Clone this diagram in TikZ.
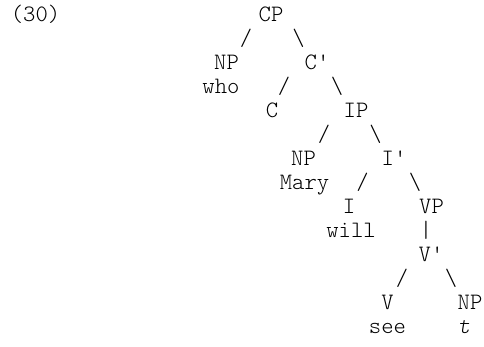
\documentclass[tikz,border=0pt]{standalone}
\usepackage{fontspec}
\setmonofont{Latin Modern Mono Light}
\begin{document}
\begin{tikzpicture}[x=1pt,y=-1pt,
  tx/.style={anchor=base,inner sep=0pt,font=\ttfamily\fontsize{23.5pt}{24pt}\selectfont}]
\useasboundingbox (0,0) rectangle (484,346);
% row 1
\node[tx] (ex) at (35.5,21) {(30)};
\node[tx] (cp) at (271,21) {CP};
% row 2
\node[tx] (s1) at (246,45) {/};
\node[tx] (b1) at (298.5,45) {\textbackslash};
% row 3
\node[tx] (np1) at (226.5,69) {NP};
\node[tx] (cbar) at (317,69) {C'};
% row 4
\node[tx] (who) at (221,93) {who};
\node[tx] (s2) at (284,93) {/};
\node[tx] (b2) at (337,93) {\textbackslash};
% row 5
\node[tx] (c) at (272,117) {C};
\node[tx] (ip) at (356,117) {IP};
% row 6
\node[tx] (s3) at (324,141) {/};
\node[tx] (b3) at (375.5,141) {\textbackslash};
% row 7
\node[tx] (np2) at (303.5,165) {NP};
\node[tx] (ibar) at (394,165) {I'};
% row 8
\node[tx] (mary) at (304.5,189) {Mary};
\node[tx] (s4) at (362.5,189) {/};
\node[tx] (b4) at (415,189) {\textbackslash};
% row 9
\node[tx] (i) at (349,213) {I};
\node[tx] (vp) at (431.5,213) {VP};
% row 10
\node[tx] (will) at (351,237) {will};
\node[tx] (pipe) at (426,237) {|};
% row 11
\node[tx] (vbar) at (431,261) {V'};
% row 12
\node[tx] (s5) at (402,285) {/};
\node[tx] (b5) at (451,285) {\textbackslash};
% row 13
\node[tx] (v) at (387.5,309) {V};
\node[tx] (np3) at (470,309) {NP};
% row 14
\node[tx] (see) at (387.5,333) {see};
\node[tx] (t) at (464,333) {\itshape t};
\end{tikzpicture}
\end{document}
